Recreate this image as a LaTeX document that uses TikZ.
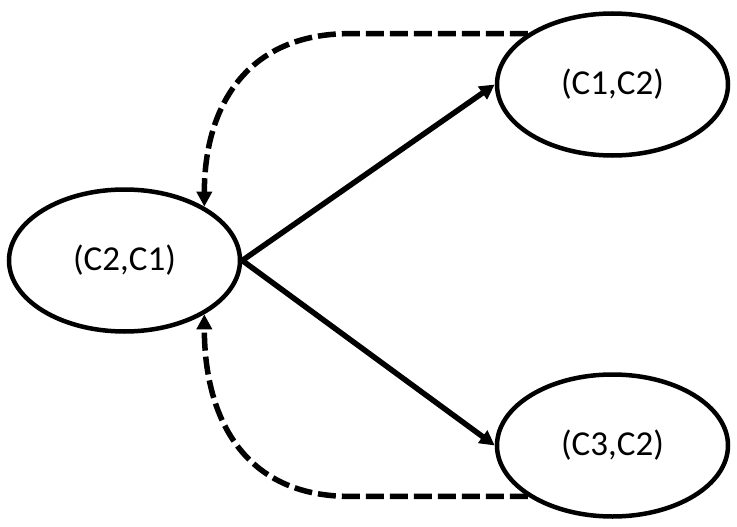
\documentclass[tikz,border=0pt]{standalone}
\usepackage{fontspec}
\setmainfont{Carlito}
\usetikzlibrary{shapes.geometric,arrows.meta}
\begin{document}
\begin{tikzpicture}[x=1pt,y=-1pt,
  state/.style={ellipse,draw,line width=4.5pt,minimum width=231pt,minimum height=142pt,inner sep=0pt,font=\fontsize{35}{40}\selectfont},
  solidarrow/.style={line width=5.5pt,-{Triangle[length=15pt,width=15pt]}},
  dasharrow/.style={line width=5.5pt,dash pattern=on 18pt off 6pt,-{Triangle[length=15pt,width=15pt]}}]
\useasboundingbox (0,0) rectangle (737,527);
\node[state] (c21) at (124.5,260.5) {(C2,C1)};
\node[state] (c12) at (612.5,84.5) {(C1,C2)};
\node[state] (c32) at (612.5,445.5) {(C3,C2)};
\draw[solidarrow] (c21.east) -- (c12.west);
\draw[solidarrow] (c21.east) -- (c32.west);
\draw[dasharrow] (c12.149) -- ++(-178,0) to[out=180,in=90,looseness=1.15] (c21.34);
\draw[dasharrow] (c32.211) -- ++(-178,0) to[out=180,in=-90,looseness=1.15] (c21.326);
\end{tikzpicture}
\end{document}
